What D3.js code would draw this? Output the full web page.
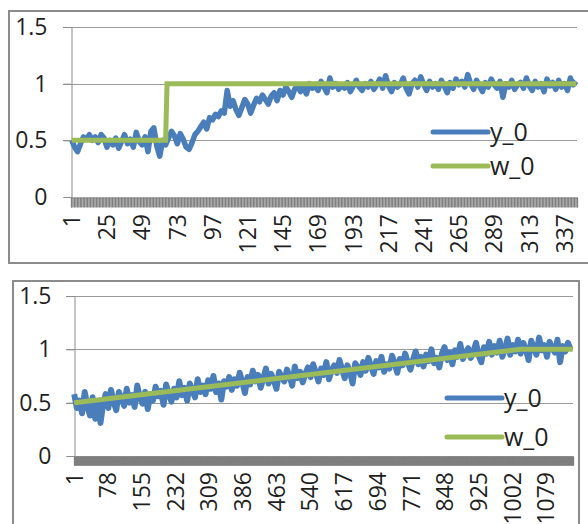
<!DOCTYPE html>
<html>
<head>
<meta charset="utf-8">
<script src="https://cdn.jsdelivr.net/npm/d3@7"></script>
<style>
  body { margin: 0; background: #fff; }
  svg text { font-family: "Open Sans", sans-serif; fill: #1f1f1f; }
</style>
</head>
<body>
<div id="chart"></div>
<script>
// shared axis / legend values
const yTicks = [0, 0.5, 1, 1.5];
const seriesNames = ['y_0', 'w_0'];
const seriesColors = ['#4a7ebb', '#9bbb59'];

// top chart: step in the setpoint, 345 samples, y_0 read every 2nd sample
const topCount = 345;
const topLabelStep = 24;
const topSampleStep = 2;
const topY0 = [
    0.50, 0.44, 0.40, 0.47, 0.53, 0.51, 0.55, 0.50, 0.53, 0.48,
    0.55, 0.52, 0.44, 0.50, 0.46, 0.52, 0.43, 0.49, 0.55, 0.47,
    0.51, 0.44, 0.57, 0.49, 0.46, 0.53, 0.40, 0.58, 0.61, 0.45,
    0.36, 0.50, 0.46,
    0.52, 0.58, 0.54, 0.47, 0.56, 0.51, 0.44, 0.42, 0.48, 0.55,
    0.58, 0.62, 0.66, 0.60, 0.70, 0.68, 0.73, 0.71, 0.76, 0.74,
    0.94, 0.80, 0.85, 0.77, 0.72, 0.79, 0.86, 0.82, 0.74, 0.81,
    0.87, 0.84, 0.90, 0.86, 0.82, 0.89, 0.92, 0.85, 0.94, 0.90,
    0.97, 0.93, 0.88, 0.95, 0.99, 0.93, 0.97, 0.91, 1.00, 0.96,
    0.98, 0.94, 1.02, 0.97, 0.92, 1.05, 0.97, 1.00, 0.95, 0.99,
    0.96, 1.01, 0.93, 0.98, 1.03, 0.97, 0.94, 1.00, 0.97, 1.02,
    0.95, 0.99, 1.04, 0.96, 1.07, 0.98, 0.93, 1.01, 0.97, 0.99,
    1.05, 0.96, 0.91, 1.00, 1.03, 0.97, 1.06, 0.99, 0.94, 1.02,
    0.97, 1.00, 0.95, 1.03, 0.98, 0.92, 1.01, 0.96, 1.04, 0.99,
    1.02, 0.97, 1.08, 1.00, 0.95, 1.03, 0.98, 0.93, 1.01, 0.97,
    1.04, 0.99, 0.96, 1.02, 0.88, 1.00, 0.97, 1.03, 0.95, 0.99,
    1.01, 0.96, 1.05, 0.98, 0.94, 1.02, 0.97, 1.00, 0.93, 1.04,
    0.98, 1.01, 0.95, 1.03, 0.97, 1.00, 0.94, 1.05, 0.99, 1.02
];
const topW0Cats = [1, 65, 66, 345];
const topW0 = [0.5, 0.5, 1, 1];

// bottom chart: ramp in the setpoint, 1140 samples, y_0 read every 6th sample
const bottomCount = 1140;
const bottomLabelStep = 77;
const bottomSampleStep = 6;
const bottomY0 = [
    0.58, 0.45, 0.52, 0.40, 0.60, 0.47, 0.38, 0.55, 0.35, 0.50,
    0.31, 0.49, 0.58, 0.45, 0.62, 0.51, 0.43, 0.60, 0.54, 0.47,
    0.63, 0.50, 0.57, 0.46, 0.66, 0.55, 0.49, 0.60, 0.44, 0.58,
    0.52, 0.65, 0.56, 0.61, 0.48, 0.67, 0.58, 0.51, 0.63, 0.55,
    0.70, 0.57, 0.64, 0.52, 0.68, 0.61, 0.55, 0.72, 0.60, 0.66,
    0.58, 0.71, 0.63, 0.75, 0.60, 0.68, 0.53, 0.70, 0.65, 0.74,
    0.62, 0.72, 0.66, 0.78, 0.69, 0.59, 0.74, 0.67, 0.80, 0.70,
    0.76, 0.64, 0.73, 0.82, 0.68, 0.77, 0.71, 0.63, 0.79, 0.74,
    0.70, 0.81, 0.75, 0.66, 0.84, 0.73, 0.79, 0.69, 0.77, 0.83,
    0.74, 0.86, 0.78, 0.70, 0.82, 0.76, 0.88, 0.72, 0.80, 0.85,
    0.78, 0.90, 0.81, 0.73, 0.85, 0.79, 0.68, 0.87, 0.83, 0.76,
    0.88, 0.80, 0.92, 0.84, 0.77, 0.89, 0.83, 0.93, 0.79, 0.86,
    0.82, 0.94, 0.87, 0.78, 0.91, 0.85, 0.96, 0.88, 0.81, 0.90,
    0.98, 0.86, 0.93, 0.84, 0.95, 0.89, 1.00, 0.87, 0.92, 0.83,
    0.96, 1.02, 0.90, 0.97, 0.86, 0.99, 0.93, 1.05, 0.91, 0.97,
    1.01, 0.92, 0.98, 1.06, 0.94, 0.88, 1.02, 0.96, 1.07, 0.95,
    1.03, 0.97, 1.08, 0.93, 1.00, 1.10, 0.95, 1.04, 0.98, 1.09,
    0.96, 1.06, 1.00, 0.90, 1.08, 1.02, 0.95, 1.11, 0.99, 1.04,
    0.93, 1.07, 1.01, 0.97, 1.09, 0.88, 1.03, 0.98, 1.06, 1.00
];
const bottomW0Cats = [1, 1020, 1140];
const bottomW0 = [0.5, 1, 1];

const svg = d3.select('#chart')
    .append('svg')
    .attr('width', 588)
    .attr('height', 524);

function drawPanel(p) {
    // outer frame of the chart object
    svg.append('rect')
        .attr('x', p.frame[0])
        .attr('y', p.frame[1])
        .attr('width', p.frame[2])
        .attr('height', p.frame[3])
        .attr('fill', '#fff')
        .attr('stroke', '#8c8c8c')
        .attr('stroke-width', 2);

    const x = d3.scaleLinear()
        .domain([0.5, p.count + 0.5])
        .range([p.left, p.right]);
    const y = d3.scaleLinear()
        .domain([0, 1.5])
        .range([p.bottom, p.top]);

    // gridlines
    svg.append('g')
        .selectAll('line')
        .data(yTicks.filter(d => d > 0))
        .join('line')
        .attr('x1', p.left - 8)
        .attr('x2', p.right)
        .attr('y1', d => Math.round(y(d)) + 0.5)
        .attr('y2', d => Math.round(y(d)) + 0.5)
        .attr('stroke', '#9a9a9a')
        .attr('stroke-width', 1);

    // value axis
    const yAxis = svg.append('g')
        .attr('transform', `translate(${p.left + 0.5},0)`)
        .call(d3.axisLeft(y).tickValues(yTicks).tickSize(8).tickPadding(p.yPad).tickFormat(d => d));
    yAxis.select('.domain').attr('stroke', '#8c8c8c');
    yAxis.selectAll('.tick line').attr('stroke', '#8c8c8c');
    yAxis.selectAll('.tick text')
        .attr('font-size', '23px')
        .attr('fill', '#1f1f1f');

    // category axis: one tick mark between every pair of categories
    const bounds = d3.range(0, p.count + 1).map(k => k + 0.5);
    const xAxis = svg.append('g')
        .attr('transform', `translate(0,${p.bottom + 0.5})`)
        .call(d3.axisBottom(x).tickValues(bounds).tickSize(p.tickLen).tickFormat(''));
    xAxis.select('.domain').attr('stroke', '#8c8c8c');
    xAxis.selectAll('.tick line')
        .attr('stroke', '#7f7f7f')
        .attr('stroke-width', 1.3);

    // category labels, rotated
    const labels = d3.range(1, p.count + 1, p.labelStep);
    svg.append('g')
        .selectAll('text')
        .data(labels)
        .join('text')
        .attr('transform', d => `translate(${x(d)},${p.labelY}) rotate(-90)`)
        .attr('text-anchor', 'end')
        .attr('dy', '0.36em')
        .attr('font-size', '23px')
        .text(d => d);

    // series
    const yLine = d3.line()
        .x((d, i) => x(1 + i * p.sampleStep))
        .y(d => y(d));
    svg.append('path')
        .datum(p.y0)
        .attr('d', yLine)
        .attr('fill', 'none')
        .attr('stroke', seriesColors[0])
        .attr('stroke-width', p.yWidth)
        .attr('stroke-linejoin', 'round');

    const wLine = d3.line()
        .x((d, i) => x(p.wCats[i]))
        .y(d => y(d));
    svg.append('path')
        .datum(p.w0)
        .attr('d', wLine)
        .attr('fill', 'none')
        .attr('stroke', seriesColors[1])
        .attr('stroke-width', 5);

    // legend
    seriesNames.forEach((name, i) => {
        const ly = p.legendY[i];
        svg.append('line')
            .attr('x1', p.legendX)
            .attr('x2', p.legendX + 55)
            .attr('y1', ly)
            .attr('y2', ly)
            .attr('stroke', seriesColors[i])
            .attr('stroke-width', 5)
            .attr('stroke-linecap', 'round');
        svg.append('text')
            .attr('x', p.legendX + 57)
            .attr('y', ly)
            .attr('dy', '0.36em')
            .attr('font-size', '25px')
            .text(name);
    });
}

drawPanel({
    frame: [9, 11, 600, 252],
    left: 71, right: 577, top: 27, bottom: 197,
    count: topCount, labelStep: topLabelStep, sampleStep: topSampleStep,
    y0: topY0, wCats: topW0Cats, w0: topW0, yWidth: 5.5,
    tickLen: 10, labelY: 214, yPad: 16,
    legendX: 433, legendY: [132, 166]
});

drawPanel({
    frame: [13, 281, 566, 260],
    left: 74, right: 573, top: 296, bottom: 456,
    count: bottomCount, labelStep: bottomLabelStep, sampleStep: bottomSampleStep,
    y0: bottomY0, wCats: bottomW0Cats, w0: bottomW0, yWidth: 6,
    tickLen: 9, labelY: 472, yPad: 15,
    legendX: 447, legendY: [398, 437]
});
</script>
</body>
</html>
